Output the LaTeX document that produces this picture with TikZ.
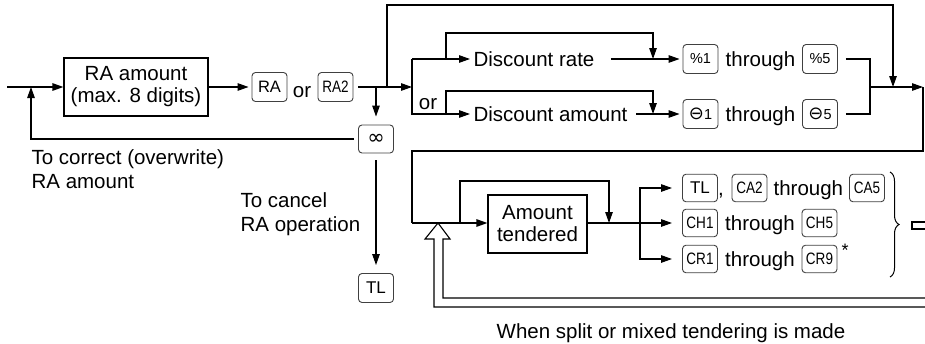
\documentclass[tikz,border=0pt]{standalone}
\usepackage{fontspec}
\usepackage{graphicx}
\setmainfont{Liberation Sans}
\newfontfamily\symfont{DejaVu Sans}
\usetikzlibrary{arrows.meta,decorations.pathreplacing}
\newcommand\klab[1]{{\fontsize{16.5}{16.5}\selectfont #1}}
\newcommand\kcond[1]{\scalebox{0.82}[1]{\fontsize{16.5}{16.5}\selectfont #1}}
\newcommand\ksmall[1]{{\fontsize{14.5}{14.5}\selectfont #1}}
\newcommand\kminus{{\symfont\fontsize{18}{18}\selectfont ⊖}}
\begin{document}
\begin{tikzpicture}[x=1pt,y=-1pt,
  line width=1.2pt,
  arr/.style={-{Triangle[length=11pt,width=7.5pt]}},
  txt/.style={font=\fontsize{20.5}{24}\selectfont, inner sep=0pt},
  box/.style={draw, line width=1.2pt, align=center, font=\fontsize{20.5}{22}\selectfont, inner sep=0pt},
  key/.style={draw=black!75, line width=0.9pt, rounded corners=3.5pt, minimum width=35pt, minimum height=29pt, inner sep=0pt},
  tkey/.style={key, minimum height=27.5pt},
  gap/.style={shorten >=3pt}
]
\useasboundingbox (0,0) rectangle (925,343);

% ---------- upper part ----------
\coordinate (in) at (7,87);
\node[box, minimum width=144pt, minimum height=58pt] (ra) at (136,87) {RA amount\\(max. 8 digits)};
\node[key] (kRA) at (269.5,87) {\klab{RA}};
\node[txt, anchor=base] (or1) at (302,97) {or};
\node[key] (kRA2) at (335.5,87) {\kcond{RA2}};
\draw[arr] (in) -- (ra.west);
\draw[arr, gap] (ra.east) -- (kRA.west);

\coordinate (b1) at (376,87);
\coordinate (b2) at (387,87);
\coordinate (bar) at (412,87);
\draw[arr] ([xshift=5pt]kRA2.east) -- (bar);
\draw (412,59) -- (412,115);
\node[txt, anchor=base] (or2) at (428,109) {or};

\node[key, minimum height=28pt] (kV) at (376,139) {{\symfont\fontsize{21}{21}\selectfont ∞}};
\node[key] (kTL1) at (376,288) {{\fontsize{17}{17}\selectfont TL}};
\draw[arr, shorten >=8pt] (b1) -- (kV.north);
\draw[arr, shorten <=7pt, shorten >=8pt] (kV.south) -- (kTL1.north);

\coordinate (j1) at (31,87);
\draw[arr] ([xshift=-4pt]kV.west) -| (j1);
\node[txt, align=left, anchor=north west] (corr) at (31,149) {To correct (overwrite)\\RA amount};
\node[txt, align=left, anchor=north west] (canc) at (240,192) {To cancel\\RA operation};

% top bypass
\coordinate (mtop) at (893,87);
\draw[arr] (b2) -- (387,5) -| (mtop);

% discount rows
\node[txt, anchor=west] (dr) at (473,59) {Discount rate};
\node[txt, anchor=west] (da) at (473,114) {Discount amount};
\coordinate (r0) at (412,59);
\coordinate (a0) at (412,114);
\draw[arr, gap] (r0) -- (dr.west);
\draw[arr, gap] (a0) -- (da.west);

\coordinate (l1) at (446,59);
\coordinate (l2) at (653,59);
\coordinate (l3) at (446,114);
\coordinate (l4) at (653,114);
\draw[arr] (l1) -- ++(0,-26) -| (l2);
\draw[arr] (l3) -- ++(0,-23) -| (l4);

\node[key] (kp1) at (700.5,59) {\ksmall{\%1}};
\node[txt, anchor=base] (th1) at (760.5,66.5) {through};
\node[key] (kp5) at (820,59) {\ksmall{\%5}};
\node[key] (kn1) at (700.5,114) {\kminus\ksmall{1}};
\node[txt, anchor=base] (th2) at (760.5,121.5) {through};
\node[key] (kn5) at (820,114) {\kminus\ksmall{5}};
\draw[arr, gap] ([xshift=16pt]dr.east) -- (kp1.west);
\draw[arr, gap] ([xshift=8pt]da.east) -- (kn1.west);

\coordinate (mg) at (870,87);
\coordinate (re) at (923,87);
\draw ([xshift=8pt]kp5.east) -| (mg);
\draw ([xshift=8pt]kn5.east) -| (mg);
\draw[arr] (mg) -- (re);

% ---------- lower part ----------
\coordinate (t0) at (412,223);
\draw (re) -- (923,151) -- (412,151) -- (t0);
\node[box, minimum width=99pt, minimum height=58pt] (at) at (537.5,224) {Amount\\tendered};
\draw[arr] (t0) -- (at.west |- t0);
\coordinate (lp1) at (460,223);
\coordinate (lp2) at (609,223);
\draw[arr] (lp1) -- (460,181) -| (lp2);

\coordinate (sp) at (640,223);
\coordinate (o1) at (672,188);
\coordinate (o2) at (672,223);
\coordinate (o3) at (672,259);
\draw[arr] (at.east |- o2) -- (o2);
\draw[arr] (sp) |- (o1);
\draw[arr] (sp) |- (o3);

\node[tkey] (kTL2) at (700,188) {{\fontsize{17}{17}\selectfont TL}};
\node[txt, anchor=base] (cm) at (721,195.5) {,};
\node[tkey] (kCA2) at (749.5,188) {\kcond{CA2}};
\node[txt, anchor=base west] (th3) at (773,195.5) {through};
\node[tkey] (kCA5) at (867,188) {\kcond{CA5}};

\node[tkey] (kCH1) at (700,223) {\kcond{CH1}};
\node[txt, anchor=base] (th4) at (760,230.5) {through};
\node[tkey] (kCH5) at (819.5,223) {\kcond{CH5}};

\node[tkey] (kCR1) at (700,259) {\kcond{CR1}};
\node[txt, anchor=base] (th5) at (760,266.5) {through};
\node[tkey] (kCR9) at (819.5,259) {\kcond{CR9}};
\node[font=\fontsize{18}{18}\selectfont, inner sep=0pt] (ast) at (845,250) {*};

\draw[decorate, decoration={brace, amplitude=9pt}, line width=1pt] (890,172) -- (890,277);
\draw (925,222) -- (912,222) -- (912,229) -- (925,229);

% hollow return arrow
\draw[line width=1.1pt, fill=white] (925,298) -- (443,298) -- (443,239) -- (450,239) -- (438,223) -- (425,239) -- (434,239) -- (434,307) -- (925,307);
\node[txt, anchor=base] (note) at (671,338) {When split or mixed tendering is made};
\end{tikzpicture}
\end{document}
